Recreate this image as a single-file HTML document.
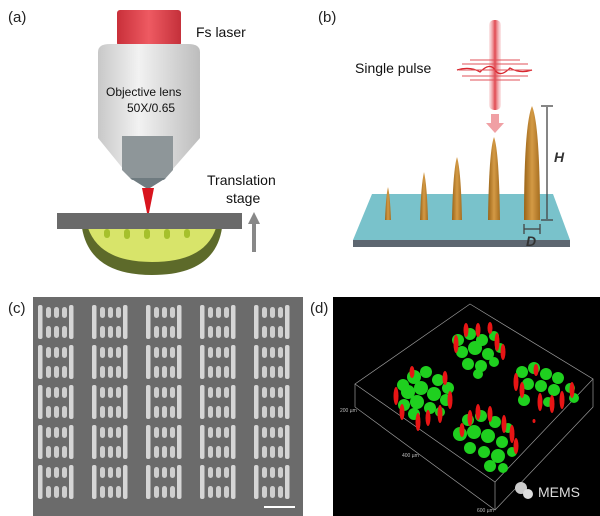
<!DOCTYPE html>
<html><head><meta charset="utf-8"><style>
html,body{margin:0;padding:0;background:#fff}
svg{display:block;font-family:"Liberation Sans",sans-serif}
</style></head><body>
<svg width="600" height="516" viewBox="0 0 600 516" xmlns="http://www.w3.org/2000/svg">
<defs>
<linearGradient id="body" x1="0" x2="1"><stop offset="0" stop-color="#c8c8c8"/><stop offset="0.4" stop-color="#f2f2f2"/><stop offset="1" stop-color="#bdbdbd"/></linearGradient>
<linearGradient id="red" x1="0" x2="1"><stop offset="0" stop-color="#c9303a"/><stop offset="0.5" stop-color="#ee5a62"/><stop offset="1" stop-color="#c4303a"/></linearGradient>
<linearGradient id="spk" x1="0" x2="1"><stop offset="0" stop-color="#9a6418"/><stop offset="0.5" stop-color="#d49a45"/><stop offset="1" stop-color="#a66e20"/></linearGradient>
<linearGradient id="beam" x1="0" x2="1"><stop offset="0" stop-color="#f3b0b4" stop-opacity="0.3"/><stop offset="0.5" stop-color="#e04850"/><stop offset="1" stop-color="#f3b0b4" stop-opacity="0.3"/></linearGradient>
<pattern id="cell" x="38" y="305" width="54" height="40" patternUnits="userSpaceOnUse">
<rect x="0" y="0" width="4.5" height="34" rx="2" fill="#d6d6d6"/>
<rect x="31" y="0" width="4.5" height="34" rx="2" fill="#d6d6d6"/>
<g fill="#cfcfcf">
<rect x="8" y="2" width="5" height="11" rx="2.5"/><rect x="16" y="2" width="5" height="11" rx="2.5"/><rect x="24" y="2" width="5" height="11" rx="2.5"/>
<rect x="8" y="21" width="5" height="12" rx="2.5"/><rect x="16" y="21" width="5" height="12" rx="2.5"/><rect x="24" y="21" width="5" height="12" rx="2.5"/>
</g>
</pattern>
</defs>

<!-- (a) -->
<text x="8" y="22" font-size="15" fill="#222">(a)</text>
<rect x="117" y="10" width="64" height="36" rx="3" fill="url(#red)"/>
<path d="M98 52 Q98 44 110 44 L188 44 Q200 44 200 52 L200 138 L172 170 L124 170 L98 138Z" fill="url(#body)"/>
<path d="M122 136 L173 136 L173 170 L164 180 L132 180 L122 170Z" fill="#8e9699"/>
<path d="M130 178 L166 178 L150 188 L146 188Z" fill="#6f7b80"/>
<path d="M142 188 L154 188 L149 213 L147 213Z" fill="#d8141e"/>
<text x="196" y="37" font-size="14" fill="#111">Fs laser</text>
<text x="106" y="96" font-size="12" fill="#111">Objective lens</text>
<text x="127" y="112" font-size="12" fill="#111">50X/0.65</text>
<path d="M82 228 Q90 275 152 275 Q215 275 222 228Z" fill="#5d6a2a"/>
<path d="M88 228 Q100 262 152 262 Q205 262 216 228Z" fill="#d8e46a"/>
<g fill="#a6c02c"><rect x="104" y="229" width="6" height="9" rx="3"/><rect x="124" y="229" width="6" height="10" rx="3"/><rect x="144" y="229" width="6" height="10" rx="3"/><rect x="164" y="229" width="6" height="10" rx="3"/><rect x="184" y="229" width="6" height="9" rx="3"/></g>
<rect x="57" y="213" width="185" height="16" fill="#6a6a6a"/>
<line x1="254" y1="252" x2="254" y2="222" stroke="#888" stroke-width="4"/>
<path d="M248 224 L254 212 L260 224Z" fill="#888"/>
<text x="207" y="185" font-size="14" fill="#111">Translation</text>
<text x="226" y="203" font-size="14" fill="#111">stage</text>

<!-- (b) -->
<text x="318" y="22" font-size="15" fill="#222">(b)</text>
<text x="355" y="73" font-size="14" fill="#111">Single pulse</text>
<rect x="489" y="20" width="12" height="90" rx="5" fill="url(#beam)"/>
<path d="M457 70 Q470 66 480 72 Q490 62 495 70 Q500 78 510 68 Q520 74 532 70" stroke="#d8262e" fill="none" stroke-width="1.3"/>
<path d="M462 64 L528 64 M459 70 L531 70 M462 76 L528 76 M470 60 L520 60 M470 80 L520 80" stroke="#e05058" stroke-width="1"/>
<path d="M491 114 L499 114 L499 123 L504 123 L495 133 L486 123 L491 123Z" fill="#f0a0a4"/>
<path d="M372 194 L553 194 L570 240 L353 240Z" fill="#79c2cb"/>
<rect x="353" y="240" width="217" height="7" fill="#5d6670"/>
<g fill="url(#spk)">
<path d="M385 220 Q386 195 388 187 Q390 195 391 220Z"/>
<path d="M420 220 Q421 185 424 172 Q427 185 428 220Z"/>
<path d="M452 220 Q453 170 457 157 Q461 170 462 220Z"/>
<path d="M488 220 Q489 150 494 137 Q499 150 500 220Z"/>
<path d="M524 220 Q524 125 532 106 Q540 125 540 220Z"/>
</g>
<g stroke="#444" stroke-width="1.3"><line x1="547" y1="107" x2="547" y2="219"/><line x1="541" y1="106" x2="553" y2="106"/><line x1="541" y1="220" x2="553" y2="220"/><line x1="524" y1="229" x2="540" y2="229"/><line x1="524" y1="224" x2="524" y2="234"/><line x1="540" y1="224" x2="540" y2="234"/></g>
<text x="554" y="162" font-size="14" font-style="italic" font-weight="bold" fill="#333">H</text>
<text x="526" y="246" font-size="14" font-style="italic" font-weight="bold" fill="#333">D</text>

<!-- (c) -->
<text x="8" y="313" font-size="15" fill="#222">(c)</text>
<rect x="33" y="297" width="270" height="219" fill="#6b6b6b"/>
<rect x="33" y="300" width="270" height="200" fill="url(#cell)"/>
<rect x="264" y="506" width="31" height="2" fill="#fff"/>

<!-- (d) -->
<text x="310" y="313" font-size="15" fill="#222">(d)</text>
<rect x="333" y="297" width="267" height="219" fill="#000"/>
<g stroke="#999" stroke-width="0.7" fill="none">
<path d="M470 304 L593 379 L495 482 L355 384Z"/>
<path d="M355 384 L355 407 L495 510 L593 407 L593 379 M495 482 L495 510"/>
</g>
<g fill="#1fd01f">
<circle cx="403" cy="385" r="6"/><circle cx="414" cy="377" r="7"/><circle cx="426" cy="372" r="6"/><circle cx="438" cy="380" r="6"/><circle cx="448" cy="388" r="6"/>
<circle cx="408" cy="392" r="7"/><circle cx="421" cy="388" r="7"/><circle cx="434" cy="394" r="7"/><circle cx="446" cy="400" r="6"/>
<circle cx="404" cy="405" r="6"/><circle cx="417" cy="402" r="7"/><circle cx="430" cy="408" r="6"/><circle cx="414" cy="414" r="6"/><circle cx="440" cy="412" r="5"/>
<circle cx="458" cy="340" r="6"/><circle cx="470" cy="334" r="6"/><circle cx="482" cy="340" r="6"/><circle cx="494" cy="336" r="5"/>
<circle cx="462" cy="352" r="6"/><circle cx="475" cy="348" r="7"/><circle cx="488" cy="354" r="6"/><circle cx="500" cy="348" r="5"/>
<circle cx="468" cy="364" r="6"/><circle cx="481" cy="366" r="6"/><circle cx="494" cy="362" r="5"/><circle cx="478" cy="374" r="5"/>
<circle cx="522" cy="372" r="6"/><circle cx="534" cy="368" r="6"/><circle cx="546" cy="374" r="6"/><circle cx="558" cy="378" r="6"/><circle cx="570" cy="388" r="5"/>
<circle cx="528" cy="384" r="6"/><circle cx="541" cy="386" r="6"/><circle cx="554" cy="390" r="6"/><circle cx="574" cy="398" r="5"/>
<circle cx="524" cy="400" r="6"/><circle cx="548" cy="402" r="5"/>
<circle cx="468" cy="420" r="6"/><circle cx="481" cy="416" r="6"/><circle cx="495" cy="422" r="6"/><circle cx="508" cy="428" r="5"/>
<circle cx="460" cy="434" r="7"/><circle cx="474" cy="432" r="7"/><circle cx="488" cy="436" r="7"/><circle cx="502" cy="442" r="6"/>
<circle cx="470" cy="448" r="6"/><circle cx="484" cy="452" r="6"/><circle cx="498" cy="456" r="7"/><circle cx="512" cy="452" r="5"/><circle cx="490" cy="466" r="6"/><circle cx="503" cy="468" r="5"/>
</g>
<g fill="#e81515">
<ellipse cx="396" cy="396" rx="2.5" ry="9"/><ellipse cx="402" cy="412" rx="2.5" ry="8"/><ellipse cx="418" cy="422" rx="2.5" ry="9"/><ellipse cx="428" cy="418" rx="2.5" ry="8"/><ellipse cx="440" cy="414" rx="2.5" ry="9"/><ellipse cx="450" cy="400" rx="2.5" ry="9"/><ellipse cx="445" cy="378" rx="2.5" ry="7"/><ellipse cx="412" cy="372" rx="2.5" ry="6"/>
<ellipse cx="456" cy="344" rx="2.5" ry="9"/><ellipse cx="466" cy="330" rx="2.5" ry="7"/><ellipse cx="478" cy="330" rx="2.5" ry="7"/><ellipse cx="497" cy="342" rx="2.5" ry="9"/><ellipse cx="503" cy="352" rx="2.5" ry="8"/><ellipse cx="490" cy="328" rx="2.5" ry="6"/>
<ellipse cx="516" cy="382" rx="2.5" ry="9"/><ellipse cx="522" cy="390" rx="2.5" ry="8"/><ellipse cx="540" cy="402" rx="2.5" ry="9"/><ellipse cx="552" cy="404" rx="2.5" ry="9"/><ellipse cx="562" cy="400" rx="2.5" ry="9"/><ellipse cx="572" cy="390" rx="2.5" ry="8"/><ellipse cx="536" cy="370" rx="2.5" ry="6"/>
<ellipse cx="470" cy="418" rx="2.5" ry="8"/><ellipse cx="478" cy="412" rx="2.5" ry="8"/><ellipse cx="490" cy="414" rx="2.5" ry="8"/><ellipse cx="504" cy="424" rx="2.5" ry="9"/><ellipse cx="512" cy="434" rx="2.5" ry="9"/><ellipse cx="516" cy="446" rx="2.5" ry="8"/><ellipse cx="462" cy="430" rx="2.5" ry="7"/>
<ellipse cx="534" cy="421" rx="1.5" ry="2"/>
</g>
<text x="340" y="412" font-size="5" fill="#bbb">200 µm</text>
<text x="402" y="457" font-size="5" fill="#bbb">400 µm</text>
<text x="477" y="512" font-size="5" fill="#bbb">600 µm</text>
<circle cx="521" cy="488" r="6" fill="#ccc"/><circle cx="528" cy="494" r="5" fill="#ddd"/>
<text x="538" y="497" font-size="14" fill="#ddd">MEMS</text>
</svg>
</body></html>
